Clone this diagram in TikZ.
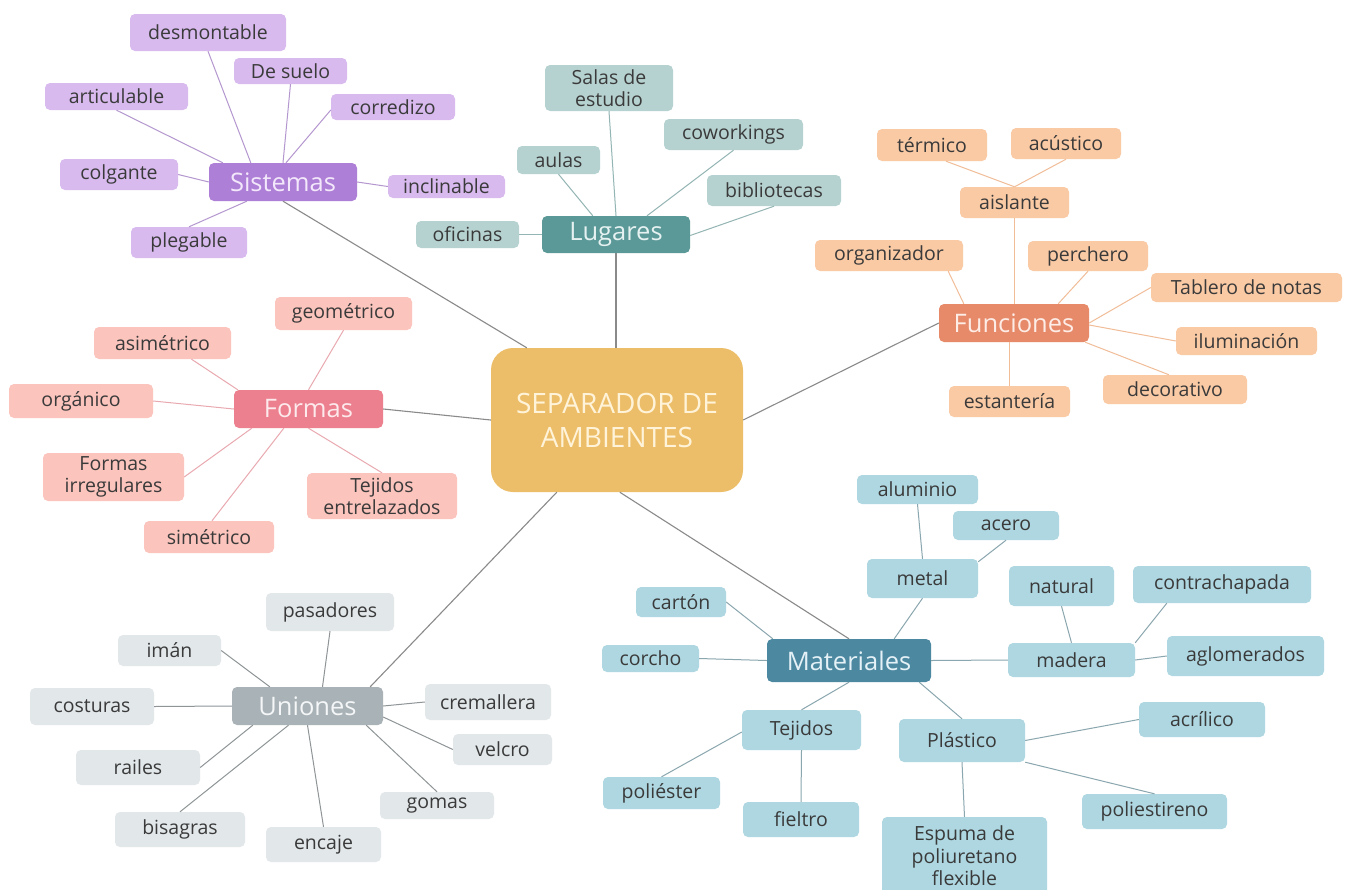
\documentclass[tikz,border=0pt]{standalone}
\usepackage{fontspec}
\setmainfont{Open Sans}
\usetikzlibrary{calc}
\definecolor{purM}{HTML}{AE7FD6}
\definecolor{purL}{HTML}{D8BAEE}
\definecolor{purLn}{HTML}{B497CF}
\definecolor{purT}{HTML}{F3E8FB}
\definecolor{tealM}{HTML}{5B9998}
\definecolor{tealL}{HTML}{B6D2D0}
\definecolor{tealLn}{HTML}{93B5B3}
\definecolor{tealT}{HTML}{E6F2F1}
\definecolor{funM}{HTML}{E68A6A}
\definecolor{funL}{HTML}{FACAA5}
\definecolor{funLn}{HTML}{F1BD98}
\definecolor{funT}{HTML}{FDEDE6}
\definecolor{pinkM}{HTML}{EC808F}
\definecolor{pinkL}{HTML}{FBC4BD}
\definecolor{pinkLn}{HTML}{E9A9B0}
\definecolor{pinkT}{HTML}{FDEAEC}
\definecolor{gryM}{HTML}{A9B2B6}
\definecolor{gryL}{HTML}{E2E7EA}
\definecolor{gryLn}{HTML}{8F9597}
\definecolor{gryT}{HTML}{F4F6F7}
\definecolor{matM}{HTML}{4D88A1}
\definecolor{matL}{HTML}{AED7E1}
\definecolor{matLn}{HTML}{8AA6AF}
\definecolor{matT}{HTML}{E4F1F6}
\definecolor{ctrF}{HTML}{EDBE69}
\definecolor{ctrT}{HTML}{FFF4DA}
\definecolor{mainLn}{HTML}{8A8A8A}
\definecolor{txt}{HTML}{3A3A3A}
\newcommand\lffont{\fontsize{19.5}{22.5}\selectfont}
\newcommand\mnfont{\fontsize{25.5}{28}\selectfont}
\newcommand\ctrfont{\fontsize{28}{34}\selectfont}
\newcommand\bx[7]{\node[#1, minimum width={#5-#3}, minimum height={#6-#4}] (#2) at ({(#3+#5)/2},{(#4+#6)/2}) {#7};}
\tikzset{
  box/.style={rectangle, rounded corners=5pt, inner sep=0pt, align=center, font=\lffont, text=txt},
  lfS/.style={box, fill=purL}, lfL/.style={box, fill=tealL}, lfF/.style={box, fill=funL},
  lfP/.style={box, fill=pinkL}, lfU/.style={box, fill=gryL}, lfM/.style={box, fill=matL},
  mn/.style={box, font=\mnfont},
  mnS/.style={mn, fill=purM, text=purT}, mnL/.style={mn, fill=tealM, text=tealT},
  mnF/.style={mn, fill=funM, text=funT}, mnP/.style={mn, fill=pinkM, text=pinkT},
  mnU/.style={mn, fill=gryM, text=gryT}, mnM/.style={mn, fill=matM, text=matT},
  ctrbox/.style={box, rounded corners=22pt, fill=ctrF, text=ctrT, font=\ctrfont},
  mainln/.style={draw=mainLn, line width=1.1pt},
  lnS/.style={draw=purLn, line width=1pt}, lnL/.style={draw=tealLn, line width=1pt},
  lnF/.style={draw=funLn, line width=1pt}, lnP/.style={draw=pinkLn, line width=1pt},
  lnU/.style={draw=gryLn, line width=1pt}, lnM/.style={draw=matLn, line width=1pt}
}
\begin{document}
\begin{tikzpicture}[x=1pt, y=-1pt]
\useasboundingbox (0,0) rectangle (1346,889);
\fill[white] (0,0) rectangle (1346,889);
% center
\bx{ctrbox}{ctr}{491}{348}{743}{492}{SEPARADOR DE\\AMBIENTES}
% Sistemas
\bx{mnS}{sis}{209}{163}{357}{201}{Sistemas}
\bx{lfS}{desm}{130}{14}{286}{51}{desmontable}
\bx{lfS}{dsue}{234}{58}{347}{84}{De suelo}
\bx{lfS}{artic}{45}{83}{188}{110}{articulable}
\bx{lfS}{corr}{331}{94}{455}{120}{corredizo}
\bx{lfS}{colg}{60}{159}{178}{190}{colgante}
\bx{lfS}{incl}{388}{175}{505}{198}{inclinable}
\bx{lfS}{pleg}{131}{227}{247}{258}{plegable}
% Lugares
\bx{mnL}{lug}{542}{216}{690}{253}{Lugares}
\bx{lfL}{salas}{545}{65}{673}{111}{Salas de\\estudio}
\bx{lfL}{cowo}{664}{119}{803}{150}{coworkings}
\bx{lfL}{aulas}{517}{146}{600}{174}{aulas}
\bx{lfL}{bibl}{707}{175}{841}{206}{bibliotecas}
\bx{lfL}{ofic}{416}{221}{519}{248}{oficinas}
% Funciones
\bx{mnF}{fun}{939}{304}{1089}{342}{Funciones}
\bx{lfF}{term}{877}{129}{987}{161}{térmico}
\bx{lfF}{acus}{1011}{128}{1121}{159}{acústico}
\bx{lfF}{aisl}{960}{187}{1069}{218}{aislante}
\bx{lfF}{orga}{815}{240}{963}{271}{organizador}
\bx{lfF}{perc}{1028}{241}{1148}{271}{perchero}
\bx{lfF}{tabl}{1151}{273}{1342}{302}{Tablero de notas}
\bx{lfF}{ilum}{1176}{327}{1317}{355}{iluminación}
\bx{lfF}{deco}{1103}{375}{1247}{404}{decorativo}
\bx{lfF}{esta}{949}{386}{1070}{417}{estantería}
% Formas
\bx{mnP}{frm}{234}{390}{383}{428}{Formas}
\bx{lfP}{geom}{275}{297}{412}{330}{geométrico}
\bx{lfP}{asim}{94}{327}{231}{359}{asimétrico}
\bx{lfP}{orgn}{9}{384}{153}{418}{orgánico}
\bx{lfP}{firr}{43}{453}{184}{501}{Formas\\irregulares}
\bx{lfP}{teje}{307}{473}{457}{519}{Tejidos\\entrelazados}
\bx{lfP}{sime}{144}{521}{274}{553}{simétrico}
% Uniones
\bx{mnU}{uni}{232}{687}{383}{725}{Uniones}
\bx{lfU}{pasa}{266}{593}{394}{631}{pasadores}
\bx{lfU}{iman}{118}{635}{221}{666}{imán}
\bx{lfU}{cost}{30}{688}{154}{725}{costuras}
\bx{lfU}{crem}{425}{684}{551}{720}{cremallera}
\bx{lfU}{velc}{453}{734}{552}{765}{velcro}
\bx{lfU}{rail}{76}{750}{200}{785}{railes}
\bx{lfU}{goma}{380}{792}{494}{819}{gomas}
\bx{lfU}{bisa}{115}{812}{245}{847}{bisagras}
\bx{lfU}{enca}{266}{827}{381}{862}{encaje}
% Materiales
\bx{mnM}{mat}{767}{639}{931}{682}{Materiales}
\bx{lfM}{alum}{857}{475}{978}{504}{aluminio}
\bx{lfM}{acer}{953}{511}{1059}{540}{acero}
\bx{lfM}{meta}{867}{559}{978}{598}{metal}
\bx{lfM}{natu}{1009}{566}{1114}{606}{natural}
\bx{lfM}{cont}{1133}{566}{1311}{603}{contrachapada}
\bx{lfM}{cart}{636}{587}{726}{617}{cartón}
\bx{lfM}{corc}{602}{645}{699}{672}{corcho}
\bx{lfM}{made}{1008}{643}{1135}{677}{madera}
\bx{lfM}{aglo}{1167}{636}{1324}{676}{aglomerados}
\bx{lfM}{teji}{742}{710}{861}{750}{Tejidos}
\bx{lfM}{plas}{899}{719}{1025}{762}{Plástico}
\bx{lfM}{acri}{1139}{702}{1265}{737}{acrílico}
\bx{lfM}{poli}{603}{777}{720}{809}{poliéster}
\bx{lfM}{fiel}{743}{802}{859}{837}{fieltro}
\bx{lfM}{poie}{1082}{794}{1227}{829}{poliestireno}
\bx{lfM}{espu}{882}{817}{1047}{895}{Espuma de\\poliuretano\\flexible}
% main connectors
\draw[mainln] (sis.south) -- ($(ctr.north west)+(36,0)$);
\draw[mainln] (lug.south) -- (lug.south |- ctr.north);
\draw[mainln] (fun.west) -- (ctr.east);
\draw[mainln] (frm.east) -- (ctr.west);
\draw[mainln] ($(uni.north east)+(-13,0)$) -- ($(ctr.south west)+(66,0)$);
\draw[mainln] (mat.north) -- ($(ctr.south west)+(129,0)$);
% Sistemas
\draw[lnS] (desm.south) -- ($(sis.north west)+(42,0)$);
\draw[lnS] (dsue.south) -- (sis.north);
\draw[lnS] (artic.south) -- ($(sis.north west)+(14,0)$);
\draw[lnS] ($(corr.west)+(0,3)$) -- ($(sis.north)+(3,0)$);
\draw[lnS] (colg.east) -- (sis.west);
\draw[lnS] (sis.east) -- (incl.west);
\draw[lnS] (pleg.north) -- ($(sis.south west)+(38,0)$);
% Lugares
\draw[lnL] (salas.south) -- (lug.north);
\draw[lnL] (aulas.south) -- ($(lug.north west)+(51,0)$);
\draw[lnL] (cowo.south) -- ($(lug.north)+(31,0)$);
\draw[lnL] (bibl.south) -- ($(lug.east)+(0,1)$);
\draw[lnL] (ofic.east) -- (lug.west);
% Funciones
\draw[lnF] ($(term.south)+(14,0)$) -- (aisl.north);
\draw[lnF] (acus.south) -- (aisl.north);
\draw[lnF] (aisl.south) -- (aisl.south |- fun.north);
\draw[lnF] ($(orga.south east)+(-15,0)$) -- ($(fun.north west)+(25,0)$);
\draw[lnF] (perc.south) -- ($(fun.north east)+(-31,0)$);
\draw[lnF] (tabl.west) -- (fun.east);
\draw[lnF] (ilum.west) -- ($(fun.east)+(0,2)$);
\draw[lnF] ($(deco.north)+(-6,0)$) -- ($(fun.south east)+(-4,0)$);
\draw[lnF] (esta.north) -- (esta.north |- fun.south);
% Formas
\draw[lnP] (geom.south) -- (frm.north);
\draw[lnP] ($(asim.south)+(29,0)$) -- ($(frm.north west)+(4,0)$);
\draw[lnP] (orgn.east) -- (frm.west);
\draw[lnP] (firr.east) -- ($(frm.south west)+(18,0)$);
\draw[lnP] (teje.north) -- (frm.south);
\draw[lnP] ($(sime.north)+(3,0)$) -- ($(frm.south west)+(50,0)$);
% Uniones
\draw[lnU] (pasa.south) -- ($(uni.north)+(15,0)$);
\draw[lnU] (iman.east) -- ($(uni.north west)+(38,0)$);
\draw[lnU] (cost.east) -- (uni.west);
\draw[lnU] (crem.west) -- (uni.east);
\draw[lnU] (velc.west) -- ($(uni.east)+(0,11)$);
\draw[lnU] (rail.east) -- ($(uni.south west)+(21,0)$);
\draw[lnU] (goma.north) -- ($(uni.south east)+(-17,0)$);
\draw[lnU] (bisa.north) -- ($(uni.south)+(-19,0)$);
\draw[lnU] (enca.north) -- (uni.south);
% Materiales
\draw[lnM] (alum.south) -- (meta.north);
\draw[lnM] (acer.south) -- ($(meta.north east)+(0,3)$);
\draw[lnM] (meta.south) -- ($(mat.north east)+(-37,0)$);
\draw[lnM] (natu.south) -- (made.north);
\draw[lnM] ($(cont.south west)+(34,0)$) -- (made.north east);
\draw[lnM] (aglo.west) -- (made.east);
\draw[lnM] (made.west) -- (mat.east);
\draw[lnM] (cart.east) -- ($(mat.north west)+(6,0)$);
\draw[lnM] (corc.east) -- (mat.west);
\draw[lnM] (teji.north) -- (mat.south);
\draw[lnM] (plas.north) -- ($(mat.south east)+(-12,0)$);
\draw[lnM] (poli.north) -- ($(teji.west)+(0,2)$);
\draw[lnM] (fiel.north) -- (teji.south);
\draw[lnM] (acri.west) -- (plas.east);
\draw[lnM] (poie.north) -- (plas.south east);
\draw[lnM] (espu.north) -- (plas.south);
\end{tikzpicture}
\end{document}
